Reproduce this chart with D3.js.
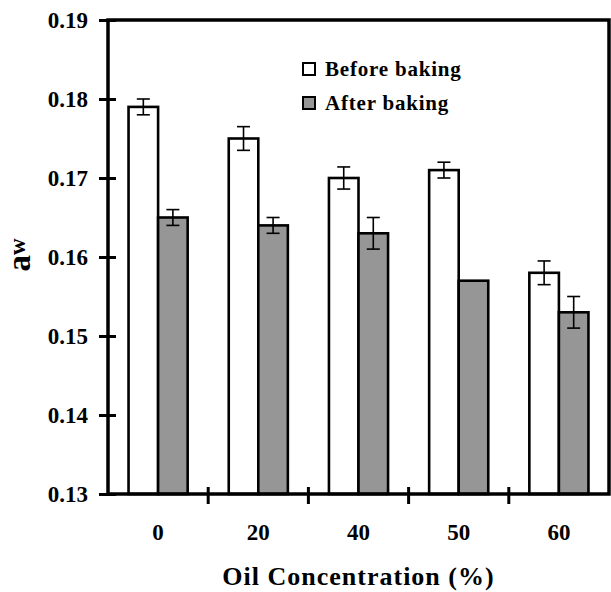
<!DOCTYPE html>
<html>
<head>
<meta charset="utf-8">
<script src="https://cdn.jsdelivr.net/npm/d3@7"></script>
<style>
  html, body { margin: 0; padding: 0; background: #fff; }
  svg { display: block; }
  text { font-family: "Liberation Serif", "Times New Roman", serif; font-weight: bold; fill: #000; }
</style>
</head>
<body>
<svg id="chart" width="611" height="592"></svg>
<script>
// ---- data ----
const categories = ["0", "20", "40", "50", "60"];
const seriesNames = ["Before baking", "After baking"];
const beforeValues = [0.179, 0.175, 0.170, 0.171, 0.158];
const beforeErrors = [0.001, 0.0015, 0.0014, 0.001, 0.0015];
const afterValues  = [0.165, 0.164, 0.163, 0.157, 0.153];
const afterErrors  = [0.001, 0.001, 0.002, 0, 0.002];
const yTicks = [0.13, 0.14, 0.15, 0.16, 0.17, 0.18, 0.19];
const xTitle = "Oil Concentration (%)";

const FONT = "'Liberation Serif', 'Times New Roman', serif";
const fills = { "Before baking": "#ffffff", "After baking": "#969696" };
const rows = categories.map((c, i) => ({
  cat: c,
  vals: [
    { s: "Before baking", v: beforeValues[i], e: beforeErrors[i] },
    { s: "After baking",  v: afterValues[i],  e: afterErrors[i] }
  ]
}));

const svg = d3.select("#chart");
const L = 108, R = 609, T = 20, B = 494;

const x0 = d3.scaleBand().domain(categories).range([L, R]).padding(0);
const x1 = d3.scaleBand().domain(seriesNames).range([x0.bandwidth() * 0.205, x0.bandwidth() * 0.795]);
const y = d3.scaleLinear().domain([0.13, 0.19]).range([B, T]);

// bars
const g = svg.append("g");
const grp = g.selectAll("g.grp").data(rows).join("g")
  .attr("transform", d => `translate(${x0(d.cat)},0)`);
grp.selectAll("rect").data(d => d.vals).join("rect")
  .attr("x", d => x1(d.s))
  .attr("y", d => y(d.v))
  .attr("width", x1.bandwidth())
  .attr("height", d => B - y(d.v))
  .attr("fill", d => fills[d.s])
  .attr("stroke", "#000")
  .attr("stroke-width", 2.6);

// error bars
const eb = grp.selectAll("g.err").data(d => d.vals.filter(v => v.e > 0)).join("g");
const cap = 6.5;
const cx = d => x1(d.s) + x1.bandwidth() / 2;
eb.append("line")
  .attr("x1", cx).attr("x2", cx)
  .attr("y1", d => y(d.v + d.e)).attr("y2", d => y(d.v - d.e))
  .attr("stroke", "#000").attr("stroke-width", 1.6);
eb.append("line")
  .attr("x1", d => cx(d) - cap).attr("x2", d => cx(d) + cap)
  .attr("y1", d => y(d.v + d.e)).attr("y2", d => y(d.v + d.e))
  .attr("stroke", "#000").attr("stroke-width", 1.6);
eb.append("line")
  .attr("x1", d => cx(d) - cap).attr("x2", d => cx(d) + cap)
  .attr("y1", d => y(d.v - d.e)).attr("y2", d => y(d.v - d.e))
  .attr("stroke", "#000").attr("stroke-width", 1.6);

// frame
svg.append("rect")
  .attr("x", L).attr("y", T).attr("width", R - L).attr("height", B - T)
  .attr("fill", "none").attr("stroke", "#000").attr("stroke-width", 3.5);

// y axis
const yAxis = svg.append("g").attr("transform", `translate(${L},0)`)
  .call(d3.axisLeft(y).tickValues(yTicks).tickFormat(d3.format(".2f")).tickSize(9).tickPadding(11));
yAxis.select(".domain").remove();
yAxis.selectAll(".tick line").attr("x1", 8).attr("stroke-width", 3);
yAxis.selectAll(".tick text").attr("dy", "0.34em")
  .style("font-family", FONT).style("font-weight", "bold").style("font-size", "23px");

// x axis labels
const xAxis = svg.append("g").attr("transform", `translate(0,${B})`)
  .call(d3.axisBottom(x0).tickSize(0).tickPadding(30));
xAxis.select(".domain").remove();
xAxis.selectAll(".tick text")
  .style("font-family", FONT).style("font-weight", "bold").style("font-size", "23px");
// boundary ticks between groups
svg.append("g").selectAll("line").data(categories.slice(1)).join("line")
  .attr("x1", d => x0(d)).attr("x2", d => x0(d))
  .attr("y1", B - 7).attr("y2", B + 10)
  .attr("stroke", "#000").attr("stroke-width", 3);

// x title
svg.append("text")
  .attr("x", (L + R) / 2).attr("y", 585)
  .attr("text-anchor", "middle")
  .style("font-family", FONT).style("font-size", "26px").attr("letter-spacing", 1)
  .text(xTitle);

// y title: a_w
const yt = svg.append("text")
  .attr("transform", "translate(30,255) rotate(-90)")
  .attr("text-anchor", "middle")
  .style("font-family", FONT);
yt.append("tspan").style("font-size", "33px").text("a");
yt.append("tspan").style("font-size", "23px").attr("dy", -5).text("w");

// legend
const leg = svg.append("g");
const legY = [63, 97];
seriesNames.forEach((s, i) => {
  leg.append("rect").attr("x", 303).attr("y", legY[i]).attr("width", 12).attr("height", 12)
    .attr("fill", fills[s]).attr("stroke", "#000").attr("stroke-width", 2);
  leg.append("text").attr("x", 325).attr("y", legY[i] + 13)
    .style("font-family", FONT).style("font-size", "21px").attr("letter-spacing", 0.8).text(s);
});
</script>
</body>
</html>
